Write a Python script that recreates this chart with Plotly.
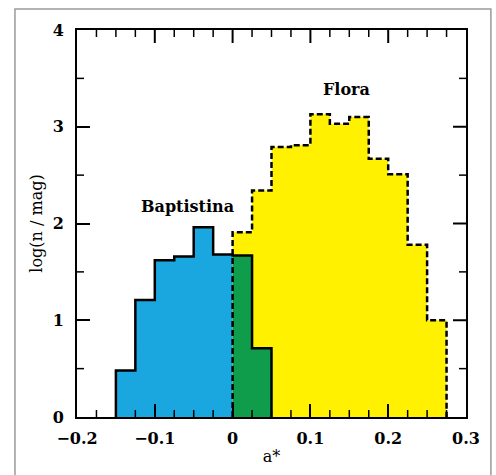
import plotly.graph_objects as go

# ---- data ----
bin_width = 0.025
bapt_start = -0.15
bapt_heights = [0.48, 1.21, 1.62, 1.66, 1.96, 1.68, 1.67, 0.71]   # last two bins overlap Flora (a* > 0)
flora_start = 0.0
flora_heights = [1.91, 2.34, 2.79, 2.81, 3.13, 3.03, 3.10, 2.67, 2.51, 1.78, 1.00]

x_range = [-0.2, 0.3]
x_major = [-0.2, -0.1, 0.0, 0.1, 0.2, 0.3]
x_ticklabels = ["\u22120.2", "\u22120.1", "0", "0.1", "0.2", "0.3"]
x_minor = [-0.175, -0.15, -0.125, -0.075, -0.05, -0.025, 0.025, 0.05, 0.075,
           0.125, 0.15, 0.175, 0.225, 0.25, 0.275]
y_range = [0, 4]
y_major = [0, 1, 2, 3, 4]
y_minor = [0.5, 1.5, 2.5, 3.5]

BLUE = "#1aa6df"
GREEN = "#0f9d4b"
YELLOW = "#fff100"
FONT = "DejaVu Serif"
MAJ_LEN, MIN_LEN = 13, 7


def step_polygon(start, heights):
    xs, ys = [start], [0]
    for i, h in enumerate(heights):
        x0 = start + i * bin_width
        x1 = x0 + bin_width
        xs += [x0, x1]
        ys += [h, h]
    xs.append(start + len(heights) * bin_width)
    ys.append(0)
    return xs, ys


def subset(start, heights, lo, hi):
    sel = [(start + i * bin_width, h) for i, h in enumerate(heights)
           if start + i * bin_width >= lo - 1e-9 and start + (i + 1) * bin_width <= hi + 1e-9]
    return sel[0][0], [h for _, h in sel]


fig = go.Figure()

# Flora fill
fx, fy = step_polygon(flora_start, flora_heights)
fig.add_trace(go.Scatter(x=fx, y=fy, fill="toself", fillcolor=YELLOW, mode="lines",
                         line=dict(width=0), hoverinfo="skip", showlegend=False))

# Baptistina fill: blue for a*<0, green for overlap a*>=0
s_neg, h_neg = subset(bapt_start, bapt_heights, -1, 0)
s_pos, h_pos = subset(bapt_start, bapt_heights, 0, 1)
bx, by = step_polygon(s_neg, h_neg)
fig.add_trace(go.Scatter(x=bx, y=by, fill="toself", fillcolor=BLUE, mode="lines",
                         line=dict(width=0), hoverinfo="skip", showlegend=False))
gx, gy = step_polygon(s_pos, h_pos)
fig.add_trace(go.Scatter(x=gx, y=gy, fill="toself", fillcolor=GREEN, mode="lines",
                         line=dict(width=0), hoverinfo="skip", showlegend=False))

# Outlines
ax_, ay_ = step_polygon(bapt_start, bapt_heights)
fig.add_trace(go.Scatter(x=ax_, y=ay_, mode="lines", line=dict(color="black", width=2.5),
                         hoverinfo="skip", showlegend=False))
fig.add_trace(go.Scatter(x=fx, y=fy, mode="lines",
                         line=dict(color="black", width=2.5, dash="6px,3px"),
                         hoverinfo="skip", showlegend=False))

fig.add_annotation(x=-0.058, y=2.18, text="Baptistina", showarrow=False,
                   font=dict(family=FONT, size=16, color="black", weight="bold"))
fig.add_annotation(x=0.147, y=3.38, text="Flora", showarrow=False,
                   font=dict(family=FONT, size=16, color="black", weight="bold"))

tickfont = dict(family=FONT, size=16, color="black", weight="bold")
titlefont = dict(family=FONT, size=16, color="black")

fig.update_xaxes(range=x_range, tickmode="array", tickvals=x_major, ticktext=x_ticklabels,
                 showline=True, linecolor="black", linewidth=2, mirror=True,
                 ticks="inside", ticklen=MAJ_LEN, tickwidth=2, tickcolor="black",
                 showgrid=False, zeroline=False, tickfont=tickfont, ticklabelstandoff=6,
                 title=dict(text="a*", standoff=4, font=titlefont))
fig.update_yaxes(range=y_range, tickmode="array", tickvals=y_major,
                 showline=True, linecolor="black", linewidth=2, mirror=True,
                 ticks="inside", ticklen=MAJ_LEN, tickwidth=2, tickcolor="black",
                 showgrid=False, zeroline=False, tickfont=tickfont, ticklabelstandoff=8,
                 title=dict(text="log(n / mag)", standoff=6, font=titlefont))

# extra ticks (top/right mirrors and minor ticks), pixel-sized, anchored on the data axes
def xtick(v, at, length, width):
    sign = 1 if at == y_range[0] else -1
    fig.add_shape(type="line", xref="x", yref="y", x0=v, x1=v, ysizemode="pixel", yanchor=at,
                  y0=0, y1=sign * length, line=dict(color="black", width=width), layer="above")


def ytick(v, at, length, width):
    sign = 1 if at == x_range[0] else -1
    fig.add_shape(type="line", xref="x", yref="y", y0=v, y1=v, xsizemode="pixel", xanchor=at,
                  x0=0, x1=sign * length, line=dict(color="black", width=width), layer="above")


for v in x_major[1:-1]:
    xtick(v, y_range[1], MAJ_LEN, 2)
for v in x_minor:
    xtick(v, y_range[0], MIN_LEN, 1.5)
    xtick(v, y_range[1], MIN_LEN, 1.5)
for v in y_major[1:-1]:
    ytick(v, x_range[1], MAJ_LEN, 2)
for v in y_minor:
    ytick(v, x_range[0], MIN_LEN, 1.5)
    ytick(v, x_range[1], MIN_LEN, 1.5)

# outer gray frame
fig.add_shape(type="rect", xref="paper", yref="paper", x0=-0.1595, x1=1.064, y0=-0.25, y1=1.054,
              line=dict(color="#9a9a9a", width=1.5), fillcolor="rgba(0,0,0,0)", layer="below")

fig.update_layout(width=496, height=475, margin=dict(l=77, r=30, t=30, b=58),
                  plot_bgcolor="white", paper_bgcolor="white")

fig.write_html("out.html")
